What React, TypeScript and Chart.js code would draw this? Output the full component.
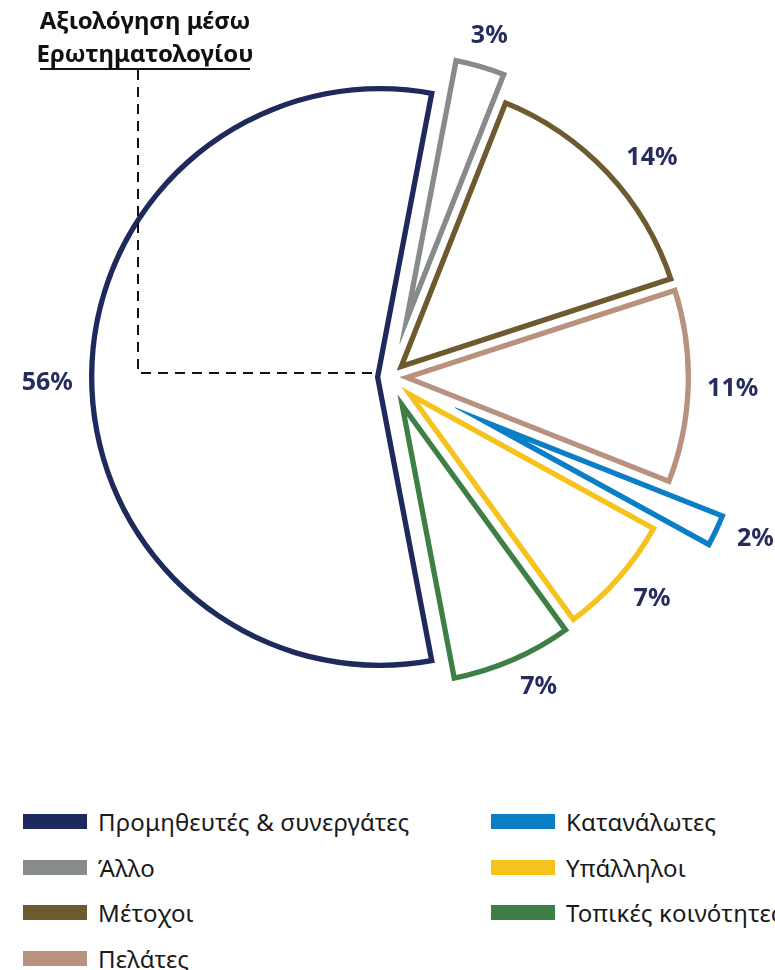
import React, { useEffect, useRef } from "react";
import { Chart, registerables } from "chart.js";

Chart.register(...registerables);

// ---- data ----
const CATEGORIES = [
  "Προμηθευτές & συνεργάτες",
  "Άλλο",
  "Μέτοχοι",
  "Πελάτες",
  "Κατανάλωτες",
  "Υπάλληλοι",
  "Τοπικές κοινότητες",
];
const VALUES = [56, 3, 14, 11, 2, 7, 7];
const COLORS = ["#1f2a5c", "#878b8c", "#6e5a2f", "#b8917f", "#0a7fc6", "#f6c21c", "#3e7f46"];
// explode distance per slice (styling)
const EXPLODE = [10, 35, 10, 10, 72, 16, 20];
// small angular nudge (degrees) for the percentage labels (styling)
const LABEL_NUDGE = [-0.8, 0, 3.2, 0, -1.7, -1.3, -2.4];
const TITLE_LINES = ["Αξιολόγηση μέσω", "Ερωτηματολογίου"];
const LEGEND_COLUMNS = [
  [0, 1, 2, 3],
  [4, 5, 6],
];

const FONT = '"Noto Sans", sans-serif';

const explodePlugin = {
  id: "explodeSlices",
  afterDatasetUpdate(chart: any, args: any) {
    const meta = args.meta;
    meta.data.forEach((arc: any, i: number) => {
      const mid = (arc.startAngle + arc.endAngle) / 2;
      const d = EXPLODE[i] || 0;
      arc.x += Math.cos(mid) * d;
      arc.y += Math.sin(mid) * d;
    });
  },
};

const annotationPlugin = {
  id: "questionnaireNote",
  afterDatasetsDraw(chart: any) {
    const ctx = chart.ctx as CanvasRenderingContext2D;
    const meta = chart.getDatasetMeta(0);
    const main = meta.data[0] as any;
    ctx.save();
    // title
    ctx.fillStyle = "#111111";
    ctx.font = `bold 24px ${FONT}`;
    ctx.textAlign = "center";
    ctx.textBaseline = "middle";
    ctx.fillText(TITLE_LINES[0], 145, 22);
    ctx.fillText(TITLE_LINES[1], 145, 55);
    // underline
    ctx.strokeStyle = "#111111";
    ctx.lineWidth = 2;
    ctx.beginPath();
    ctx.moveTo(40, 69);
    ctx.lineTo(250, 69);
    ctx.stroke();
    // dashed leader
    const yEnd = main.y - 4;
    const xEnd = main.x - 5;
    ctx.setLineDash([10, 7]);
    ctx.beginPath();
    ctx.moveTo(138, 70);
    ctx.lineTo(138, yEnd);
    ctx.lineTo(xEnd, yEnd);
    ctx.stroke();
    ctx.restore();
  },
};

const labelPlugin = {
  id: "pctLabels",
  afterDraw(chart: any) {
    const ctx = chart.ctx as CanvasRenderingContext2D;
    const meta = chart.getDatasetMeta(0);
    ctx.save();
    ctx.font = `bold 25px ${FONT}`;
    ctx.fillStyle = "#262d5e";
    ctx.textAlign = "center";
    ctx.textBaseline = "middle";
    meta.data.forEach((arc: any, i: number) => {
      const mid = (arc.startAngle + arc.endAngle) / 2 + ((LABEL_NUDGE[i] || 0) * Math.PI) / 180;
      const c = Math.cos(mid);
      const s = Math.sin(mid);
      const text = `${VALUES[i]}%`;
      const w = ctx.measureText(text).width;
      const h = 18;
      const dist = arc.outerRadius + 16 + (Math.abs(c) * w) / 2 + (Math.abs(s) * h) / 2;
      ctx.fillText(text, arc.x + c * dist, arc.y + s * dist + 1);
    });
    ctx.restore();
  },
};

function PieChart() {
  const ref = useRef<HTMLCanvasElement | null>(null);
  useEffect(() => {
    if (!ref.current) return;
    const chart = new Chart(ref.current, {
      type: "pie",
      data: {
        labels: CATEGORIES,
        datasets: [
          {
            data: VALUES,
            backgroundColor: "#ffffff",
            borderColor: COLORS,
            borderWidth: 5,
            borderAlign: "inner",
            borderJoinStyle: "miter",
          } as any,
        ],
      },
      options: {
        responsive: false,
        animation: false,
        events: [],
        rotation: 169.2,
        radius: 291,
        layout: { padding: { left: 5, bottom: 26 } },
        plugins: {
          legend: { display: false },
          tooltip: { enabled: false },
          title: { display: false },
        },
      } as any,
      plugins: [explodePlugin, annotationPlugin, labelPlugin],
    });
    return () => chart.destroy();
  }, []);
  return (
    <canvas
      ref={ref}
      width={775}
      height={780}
      style={{ position: "absolute", left: 0, top: 0, width: 775, height: 780 }}
    />
  );
}

function Legend() {
  const colLeft = [23, 491];
  return (
    <>
      {LEGEND_COLUMNS.map((col, ci) =>
        col.map((idx, ri) => (
          <div
            key={idx}
            style={{
              position: "absolute",
              left: colLeft[ci],
              top: 814 + ri * 45.5,
              height: 15,
              display: "flex",
              alignItems: "center",
              whiteSpace: "nowrap",
            }}
          >
            <span
              style={{ display: "inline-block", width: 64, height: 15, background: COLORS[idx], flex: "none" }}
            />
            <span
              style={{
                marginLeft: 11,
                fontFamily: FONT,
                fontSize: 24,
                letterSpacing: "0.2px",
                lineHeight: "15px",
                color: "#1a1a1a",
              }}
            >
              {CATEGORIES[idx]}
            </span>
          </div>
        ))
      )}
    </>
  );
}

export default function App() {
  return (
    <div
      style={{
        position: "absolute",
        left: 0,
        top: 0,
        width: 775,
        height: 970,
        overflow: "hidden",
        background: "#ffffff",
      }}
    >
      <PieChart />
      <Legend />
    </div>
  );
}
